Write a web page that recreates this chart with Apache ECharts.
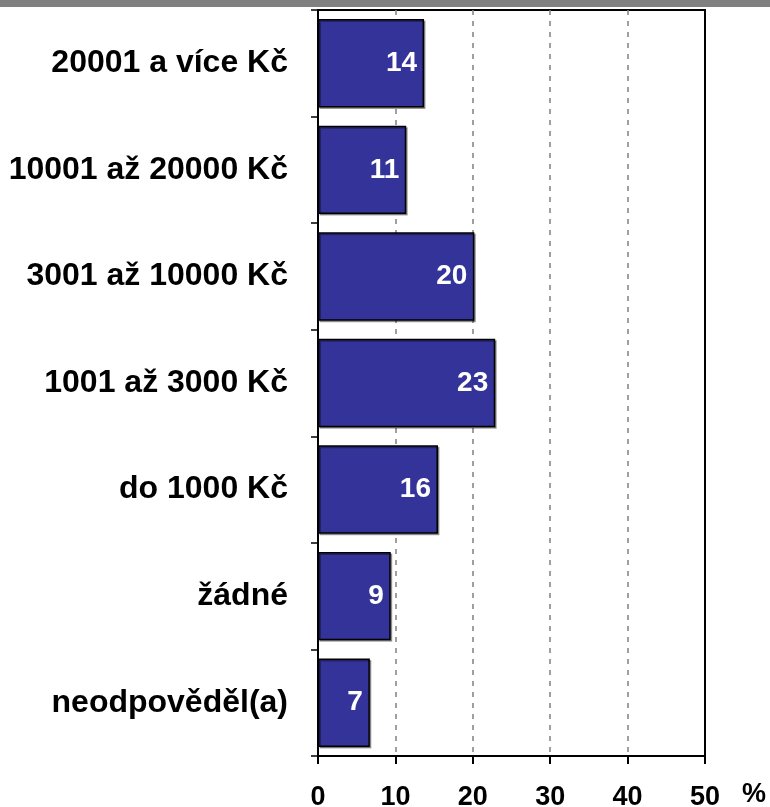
<!DOCTYPE html>
<html>
<head>
<meta charset="utf-8">
<script src="https://cdn.jsdelivr.net/npm/echarts@6/dist/echarts.min.js"></script>
<style>
  html, body { margin: 0; padding: 0; background: #fff; }
  #chart { width: 770px; height: 807px; }
</style>
</head>
<body>
<div id="chart"></div>
<script>
// categories listed top to bottom
var categories = ['20001 a více Kč', '10001 až 20000 Kč', '3001 až 10000 Kč', '1001 až 3000 Kč', 'do 1000 Kč', 'žádné', 'neodpověděl(a)']
var values = [13.7, 11.4, 20.2, 22.9, 15.5, 9.4, 6.7]
var xTicks = [0, 10, 20, 30, 40, 50]
var unitLabel = '%'

var font = 'Liberation Sans, Arial, sans-serif'
var chart = echarts.init(document.getElementById('chart'))

var option = {
  animation: false,
  graphic: [{
    type: 'rect',
    shape: { x: 0, y: 0, width: 770, height: 7 },
    style: { fill: '#808080' }
  }, {
    type: 'text',
    left: 742,
    top: 781,
    style: {
      text: unitLabel,
      fill: '#000',
      font: 'bold 27px ' + font
    }
  }],
  grid: {
    left: 318,
    right: 65,
    top: 10,
    bottom: 51,
    outerBoundsMode: 'none',
    show: true,
    borderColor: '#000',
    borderWidth: 2
  },
  xAxis: {
    type: 'value',
    min: xTicks[0],
    max: xTicks[xTicks.length - 1],
    interval: 10,
    axisLine: { show: true, lineStyle: { color: '#000', width: 2 } },
    axisTick: { show: true, length: 8, lineStyle: { color: '#000', width: 2 } },
    axisLabel: {
      margin: 28,
      color: '#000',
      fontFamily: font,
      fontWeight: 'bold',
      fontSize: 27
    },
    splitLine: {
      show: true,
      showMinLine: false,
      showMaxLine: false,
      lineStyle: { color: '#808080', type: [5, 6], width: 1.5 }
    }
  },
  yAxis: {
    type: 'category',
    data: categories,
    inverse: true,
    axisLine: { show: true, lineStyle: { color: '#000', width: 2 } },
    axisTick: { show: true, length: 7, lineStyle: { color: '#000', width: 1.5 } },
    axisLabel: {
      margin: 30,
      color: '#000',
      fontFamily: font,
      fontWeight: 'bold',
      fontSize: 32
    },
    splitLine: { show: false }
  },
  series: [{
    type: 'bar',
    data: values,
    barCategoryGap: '17%',
    itemStyle: {
      color: '#333399',
      borderColor: '#000',
      borderWidth: 1.5,
      shadowColor: 'rgba(0,0,0,0.35)',
      shadowOffsetX: 1.5,
      shadowOffsetY: 1.5
    },
    label: {
      show: true,
      position: 'insideRight',
      distance: 7,
      color: '#fff',
      fontFamily: font,
      fontWeight: 'bold',
      fontSize: 28,
      formatter: function (p) { return Math.round(p.value) }
    }
  }]
}

chart.setOption(option)
</script>
</body>
</html>
